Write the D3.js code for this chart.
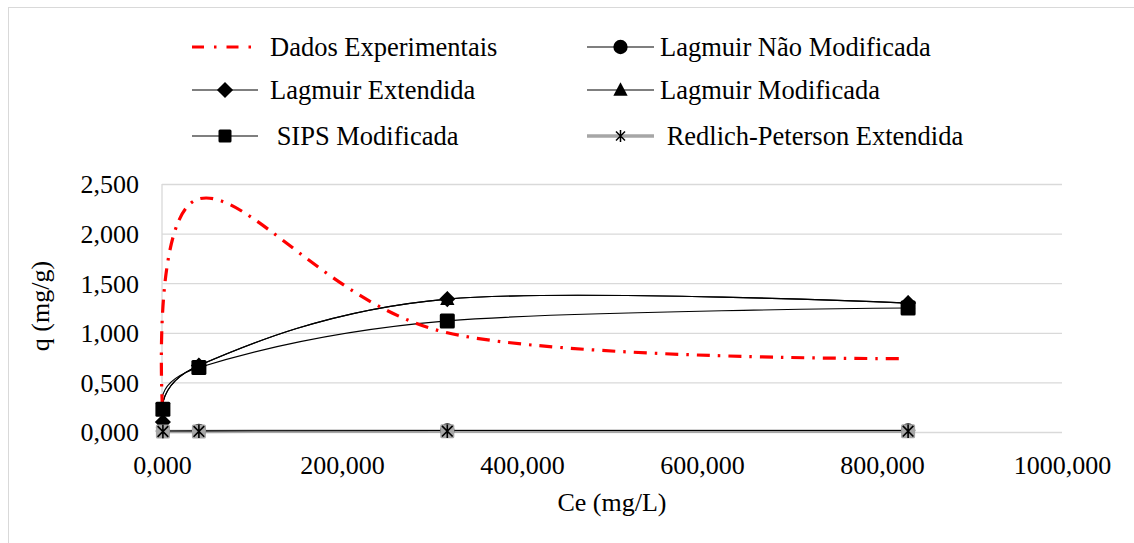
<!DOCTYPE html>
<html><head><meta charset="utf-8">
<script src="https://cdn.jsdelivr.net/npm/d3@7"></script>
<style>body{margin:0;background:#fff}svg{display:block}svg text{font-family:"Liberation Serif","Times New Roman",Times,serif !important}</style>
</head><body>
<svg id="c" width="1134" height="543"></svg>
<script>
// Data
const xTicks = [0, 200, 400, 600, 800, 1000];
const yTicks = [0, 0.5, 1.0, 1.5, 2.0, 2.5];
const expX = [0.5, 41, 317, 820];
const expQ = [0.25, 2.35, 1.00, 0.74];
const modelX = [1, 41, 317, 829];
const langNaoMod = [0.01, 0.012, 0.015, 0.015];
const langExt = [0.10, 0.67, 1.34, 1.30];
const langMod = [0.10, 0.67, 1.34, 1.30];
const sipsMod = [0.23, 0.65, 1.12, 1.25];
const redlichExt = [0.005, 0.006, 0.008, 0.008];
const legendLabels = ["Dados Experimentais","Lagmuir Não Modificada","Lagmuir Extendida","Lagmuir Modificada"," SIPS Modificada"," Redlich-Peterson Extendida"];

const FONT = "Liberation Serif";
const fmt = v => d3.format(".3f")(v).replace(".", ",");
const svg = d3.select("#c").attr("font-family", FONT).style("font-family", FONT);
const x = d3.scaleLinear().domain([0, 1000]).range([162, 1062]);
const y = d3.scaleLinear().domain([0, 2.5]).range([432, 184]);

function txt(sel, size) {
  return sel.attr("font-family", FONT).style("font-family", FONT).style("font-size", size + "px").attr("fill", "#000");
}

// outer border
svg.append("rect").attr("x",8.5).attr("y",7.5).attr("width",1200).attr("height",600)
  .attr("fill","none").attr("stroke","#d9d9d9").attr("stroke-width",1);

// gridlines + y labels
const ya = d3.axisLeft(y).tickValues(yTicks).tickSize(-(1062-162)).tickFormat(fmt);
const gy = svg.append("g").attr("transform","translate(162,0)").call(ya).attr("font-family", FONT);
gy.select(".domain").remove();
gy.selectAll("line").attr("stroke","#d9d9d9").attr("stroke-width",1.3);
txt(gy.selectAll("text").attr("x",-23).attr("dy","0.34em"), 26);
svg.append("line").attr("x1",162).attr("x2",162).attr("y1",184).attr("y2",432).attr("stroke","#d9d9d9").attr("stroke-width",1.3);

const xa = d3.axisBottom(x).tickValues(xTicks).tickSize(0).tickFormat(fmt);
const gx = svg.append("g").attr("transform","translate(0,432)").call(xa).attr("font-family", FONT);
gx.select(".domain").remove();
txt(gx.selectAll("text").attr("y",42).attr("dy",0), 26);

// titles
txt(svg.append("text").attr("x",612).attr("y",511).attr("text-anchor","middle"), 26).text("Ce (mg/L)");
txt(svg.append("text").attr("transform","translate(49,306) rotate(-90)").attr("text-anchor","middle"), 26).text("q (mg/g)");

const curve = d3.curveCardinal.tension(0);
const line = (xs, ys) => d3.line().curve(curve).x((d,i)=>x(xs[i])).y(d=>y(d))(ys);

function marker(g, type, cx, cy, s) {
  if (type === "circle") g.append("circle").attr("cx",cx).attr("cy",cy).attr("r",s*0.55).attr("fill","#000");
  else if (type === "diamond") g.append("path").attr("d",`M${cx},${cy-s*0.62}L${cx+s*0.62},${cy}L${cx},${cy+s*0.62}L${cx-s*0.62},${cy}Z`).attr("fill","#000");
  else if (type === "triangle") g.append("path").attr("d",`M${cx},${cy-s*0.6}L${cx+s*0.55},${cy+s*0.45}L${cx-s*0.55},${cy+s*0.45}Z`).attr("fill","#000");
  else if (type === "square") g.append("rect").attr("x",cx-s/2).attr("y",cy-s/2).attr("width",s).attr("height",s).attr("rx",1.5).attr("fill","#000");
  else if (type === "star") {
    g.append("rect").attr("x",cx-s/2).attr("y",cy-s/2).attr("width",s).attr("height",s).attr("rx",1.5).attr("fill","#a6a6a6");
    const r = s*0.38;
    g.append("path").attr("d",`M${cx-r},${cy-r}L${cx+r},${cy+r}M${cx+r},${cy-r}L${cx-r},${cy+r}M${cx},${cy-s*0.48}L${cx},${cy+s*0.48}`)
      .attr("stroke","#000").attr("stroke-width",1.6).attr("fill","none");
  }
}

const series = [
  {vals: redlichExt, m: "star", color: "#a6a6a6", w: 3.5},
  {vals: langNaoMod, m: "circle", color: "#000", w: 1.2},
  {vals: langExt, m: "diamond", color: "#000", w: 1.2},
  {vals: langMod, m: "triangle", color: "#000", w: 1.2},
  {vals: sipsMod, m: "square", color: "#000", w: 1.2},
];
const gs = svg.append("g");
series.forEach(s => {
  gs.append("path").attr("d", line(modelX, s.vals)).attr("fill","none").attr("stroke", s.color).attr("stroke-width", s.w);
});
gs.append("path").attr("d", line(expX, expQ)).attr("fill","none").attr("stroke","#ff0000").attr("stroke-width",3.2)
  .attr("stroke-dasharray","13,8,2.5,8");
const order = [series[1], series[3], series[2], series[4], series[0]];
order.forEach(s => {
  s.vals.forEach((v,i) => marker(gs, s.m, x(modelX[i]), y(v), s.m==="square"?15:(s.m==="star"?14:13)));
});

// legend
const leg = svg.append("g");
const cols = [{lx1:192, lx2:258, tx:270}, {lx1:587, lx2:654, tx:660}];
const rows = [47, 90, 136];
const legItems = [
  {col:0,row:0,type:"exp"},
  {col:1,row:0,type:"circle"},
  {col:0,row:1,type:"diamond"},
  {col:1,row:1,type:"triangle"},
  {col:0,row:2,type:"square"},
  {col:1,row:2,type:"star"},
];
legItems.forEach((it, i) => {
  const c = cols[it.col], yy = rows[it.row];
  if (it.type === "exp") {
    leg.append("line").attr("x1",c.lx1).attr("x2",c.lx2-4).attr("y1",yy).attr("y2",yy)
      .attr("stroke","#ff0000").attr("stroke-width",3.2).attr("stroke-dasharray","12,10,2.5,10");
  } else {
    const star = it.type === "star";
    leg.append("line").attr("x1",c.lx1).attr("x2",c.lx2).attr("y1",yy).attr("y2",yy)
      .attr("stroke", star ? "#a6a6a6" : "#000").attr("stroke-width", star ? 3.5 : 1.2);
    const mx = (c.lx1 + c.lx2)/2;
    if (star) {
      const r = 4.5;
      leg.append("path").attr("d",`M${mx-r},${yy-r}L${mx+r},${yy+r}M${mx+r},${yy-r}L${mx-r},${yy+r}M${mx},${yy-6}L${mx},${yy+6}`)
        .attr("stroke","#000").attr("stroke-width",1.5);
    } else marker(leg, it.type, mx, yy, 13);
  }
  txt(leg.append("text").attr("x", c.tx).attr("y", yy).attr("dy","0.33em"), 26.5)
    .style("white-space","pre").text(legendLabels[i]);
});
</script>
</body></html>
